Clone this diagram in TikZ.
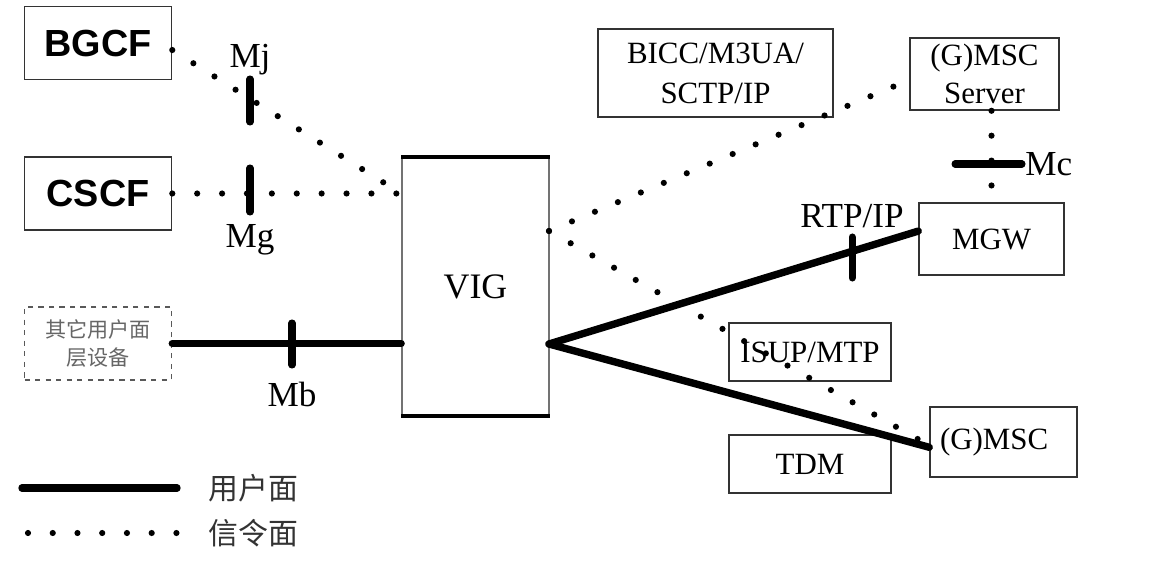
\documentclass[tikz,border=0pt]{standalone}
\usepackage{fontspec}
\setmainfont{Liberation Serif}
\newfontfamily\cjk{Noto Sans CJK SC}
\newfontfamily\arialfont{Liberation Sans}
\begin{document}
\begin{tikzpicture}[x=0.02cm,y=-0.02cm,
  box/.style={draw=black!80, line width=0.9pt, inner sep=0pt, align=center,
    font=\fontsize{17.6}{21.5}\selectfont},
  sbox/.style={box, font=\arialfont\bfseries\fontsize{21.5}{24}\selectfont},
  sig/.style={line width=3.5pt, line cap=round, dash pattern=on 0pt off 14.17pt},
  usr/.style={line width=4.2pt, line cap=round},
  barmark/.style={line width=4pt, line cap=round},
  lbl/.style={font=\fontsize{20}{22}\selectfont, inner sep=0pt},
  leg/.style={font=\cjk\fontsize{17}{19}\selectfont, text=black!80, inner sep=0pt, anchor=west}
]
\useasboundingbox (0,0) rectangle (1158,584);

% boxes
\node[sbox, minimum width=2.94cm, minimum height=1.46cm] (BGCF) at (98,43) {BGCF};
\node[sbox, minimum width=2.94cm, minimum height=1.46cm] (CSCF) at (98,193.5) {CSCF};
\node[box, dashed, draw=black!65, minimum width=2.94cm, minimum height=1.46cm,
  font=\cjk\fontsize{12}{16}\selectfont, text=black!60] (OTH) at (98,343.5) {其它用户面\\层设备};
\node[box, draw=black!55, line width=1pt, minimum width=2.94cm, minimum height=5.14cm,
  font=\fontsize{20.4}{22}\selectfont] (VIG) at (475.5,286.5) {VIG};
\draw[line width=2.2pt] (VIG.north west) -- (VIG.north east);
\draw[line width=2.2pt] (VIG.south west) -- (VIG.south east);
\node[box, minimum width=4.7cm, minimum height=1.76cm, font=\fontsize{17.6}{22.7}\selectfont] (BICC) at (715.5,73) {BICC/M3UA/\\SCTP/IP};
\node[box, minimum width=2.98cm, minimum height=1.44cm, font=\fontsize{17.6}{21.5}\selectfont] (GMSCS) at (984.5,74) {(G)MSC\\Server};
\node[box, minimum width=2.9cm, minimum height=1.44cm] (MGW) at (991.5,239) {MGW};
\node[box, minimum width=3.24cm, minimum height=1.16cm] (ISUP) at (810,352) {ISUP/MTP};
\node[box, minimum width=3.24cm, minimum height=1.16cm] (TDM) at (810,464) {TDM};
\node[box, minimum width=2.94cm, minimum height=1.4cm, text width=2.54cm, align=left] (GMSC) at (1003.5,442) {(G)MSC};

% anchor points on VIG
\coordinate (vsig) at (549,231);
\coordinate (vusr) at (549,344);

% signalling connectors
\draw[sig] ([yshift=-4pt]BGCF.east) -- (VIG.west |- CSCF.east);
\draw[sig] (CSCF.east) -- (VIG.west |- CSCF.east);
\draw[sig] (vsig) -- ([yshift=-3.4pt]GMSCS.west);
\draw[sig] (vsig) -- ([yshift=-2pt]GMSC.west);
\draw[sig] (MGW.north |- GMSCS.south) -- (MGW.north);

% user plane connectors
\draw[usr] (OTH.east) -- (VIG.west |- OTH.east);
\draw[usr] (vusr) -- ([yshift=4.5pt]MGW.west);
\draw[usr] (vusr) -- ([yshift=-3pt]GMSC.west);

% interface bars
\draw[barmark] (250,79) -- (250,122);
\draw[barmark] (250,168) -- (250,212);
\draw[barmark] (292,323) -- (292,365);
\draw[barmark] (955,164) -- (1022,164);
\draw[barmark] (852,237) -- (852,278);

% interface labels
\node[lbl] (Mj) at (250,60) {Mj};
\node[lbl] (Mg) at (250,240) {Mg};
\node[lbl] (Mb) at (292,394) {Mb};
\node[lbl, anchor=west] (Mc) at (1025,164) {Mc};
\node[lbl] (RTP) at (852,216) {RTP/IP};

% legend
\coordinate (l1a) at (22,488); \coordinate (l1b) at (177,488);
\coordinate (l2a) at (28,533); \coordinate (l2b) at (177,533);
\draw[usr] (l1a) -- (l1b);
\draw[sig, dash pattern=on 0pt off 14.08pt] (l2a) -- (l2b);
\node[leg] (L1) at (208,488) {用户面};
\node[leg] (L2) at (208,533) {信令面};
\end{tikzpicture}
\end{document}
